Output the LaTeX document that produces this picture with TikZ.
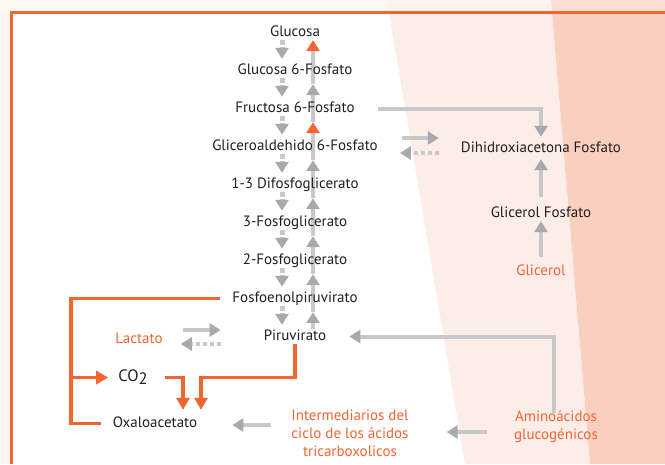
\documentclass[tikz,border=0pt]{standalone}
\usepackage{fontspec}
\setmainfont{PT Sans}
\usetikzlibrary{arrows.meta,backgrounds,calc}
\definecolor{naranja}{RGB}{241,101,49}
\definecolor{gristrazo}{RGB}{199,200,202}
\definecolor{grispunta}{RGB}{167,169,172}
\definecolor{texto}{RGB}{35,31,32}
\definecolor{fondo}{RGB}{254,245,242}
\definecolor{banda}{RGB}{252,237,232}
\definecolor{bandaosc}{RGB}{249,208,192}
\tikzset{
  met/.style={anchor=base, inner sep=1pt, text height=10pt, text depth=3pt,
    text=texto, font=\fontsize{15}{18}\selectfont},
  fuente/.style={met, text=naranja},
  bloque/.style={anchor=north, align=center, inner sep=1pt, text=naranja,
    font=\fontsize{15}{18}\selectfont},
  via/.style={draw=gristrazo, line width=4pt, -{Triangle[width=13pt,length=11pt,color=#1]}},
  via/.default=grispunta,
  viapunt/.style={via, line width=5pt, dash pattern=on 4.5pt off 2.5pt},
  vuelta/.style={via, dash pattern=on 4pt off 3pt},
  ruta/.style={draw=naranja, line width=3.5pt},
  rutaflecha/.style={ruta, -{Triangle[width=13pt,length=12pt]}},
}
\begin{document}
\begin{tikzpicture}[x=1pt,y=-1pt]
\useasboundingbox (0,0) rectangle (665,464);
% metabolitos
\node[met] (glu) at (295,36) {Glucosa};
\node[met] (g6f) at (295,74) {Glucosa 6-Fosfato};
\node[met] (f6f) at (295,112) {Fructosa 6-Fosfato};
\node[met] (gli) at (295,150) {Gliceroaldehido 6-Fosfato};
\node[met] (dpg) at (295,188) {1-3 Difosfoglicerato};
\node[met] (pg3) at (295,226) {3-Fosfoglicerato};
\node[met] (pg2) at (295,264) {2-Fosfoglicerato};
\node[met] (pep) at (295,302) {Fosfoenolpiruvirato};
\node[met] (pir) at (295,340) {Piruvirato};
\node[fuente] (lac) at (139,343) {Lactato};
\node[met, font=\fontsize{16.5}{18}\selectfont] (co2) at (133,381) {CO\raisebox{-3pt}{2}};
\node[met] (oxa) at (155,427) {Oxaloacetato};
\node[bloque] (int) at (350,409) {Intermediarios del\\ciclo de los ácidos\\tricarboxolicos};
\node[bloque] (ami) at (556,409) {Aminoácidos\\glucogénicos};
\node[met] (dha) at (541,152) {Dihidroxiacetona Fosfato};
\node[met] (gp) at (541,217) {Glicerol Fosfato};
\node[fuente] (gl) at (541,275) {Glicerol};

\begin{scope}[on background layer]
% fondo y bandas
\fill[fondo] (0,0) rectangle (665,464);
\fill[white] (11,12) rectangle (665,464);
\fill[banda] (387,0) -- (551,0) -- (590,464) -- (465,464) -- cycle;
\fill[bandaosc] (551,0) -- (665,0) -- (665,464) -- (590,464) -- cycle;
\fill[white,opacity=.3] (0,0) rectangle (665,11);
\draw[naranja,line width=3pt] (11,464) -- (11,12) -- (665,12);

% glucolisis (hacia abajo)
\foreach \a/\b in {glu/g6f,g6f/f6f,f6f/gli,gli/dpg,dpg/pg3,pg3/pg2,pg2/pep,pep/pir}
  \draw[viapunt] ([xshift=-13pt]\a.south) -- ([xshift=-13pt,yshift=4pt]\b.north);

% gluconeogenesis (hacia arriba)
\draw[via] ([xshift=18pt]pir.north) -- ([xshift=18pt,yshift=-6pt]pep.south);
\foreach \a/\b/\c in {pep/pg2/grispunta,pg2/pg3/grispunta,pg3/dpg/grispunta,
    dpg/gli/grispunta,gli/f6f/naranja,f6f/g6f/grispunta}
  \draw[via=\c] ([xshift=18pt,yshift=-6pt]\a.south) -- ([xshift=18pt,yshift=-6pt]\b.south);
\draw[via=naranja] ([xshift=18pt,yshift=-6pt]g6f.south) -- ([xshift=18pt]glu.south);

% glicerol
\draw[via, shorten <=22pt, shorten >=4pt] (f6f.east) -| (dha.north);
\draw[via, shorten <=9pt, shorten >=3pt] (gp.north) -- (dha.south);
\draw[via, shorten <=7pt] (gl.north) -- (gp.south);
\draw[via] ($(gli.east)+(23,-8.5)$) -- ($(gli.east -| dha.west)+(-21,-8.5)$);
\draw[vuelta] ($(gli.east -| dha.west)+(-21,6.5)$) -- ($(gli.east)+(21,6.5)$);

% lactato
\draw[via] ($(pir.west -| lac.east)+(19,-6.5)$) -- ($(pir.west)+(-42,-6.5)$);
\draw[vuelta] ($(pir.west)+(-42,7.5)$) -- ($(pir.west -| lac.east)+(17,7.5)$);

% aminoacidos
\draw[via, shorten <=-4pt, shorten >=22pt] ([xshift=-2pt]ami.north) |- (pir.east);
\draw[via] ($(ami.north -| ami.west)+(-26,23)$) -- ($(int.north -| int.east)+(37,23)$);
\draw[via] ($(int.north -| int.west)+(-19,16)$) -- ($(int.north -| oxa.east)+(34,16)$);

% oxaloacetato
\coordinate (esquina) at (71,0);
\draw[ruta, shorten <=11pt, shorten >=11pt] (pep.west) -- (pep.west -| esquina) |- (oxa.west);
\draw[rutaflecha, shorten >=9pt] (esquina |- co2.west) -- (co2.west);
\draw[rutaflecha, shorten <=16pt, shorten >=6pt] (co2.east) -| ([xshift=28pt]oxa.north);
\draw[rutaflecha, shorten >=6pt] (pir.south) -- (pir.south |- co2.west) -| ([xshift=46pt]oxa.north);
\end{scope}
\end{tikzpicture}
\end{document}
